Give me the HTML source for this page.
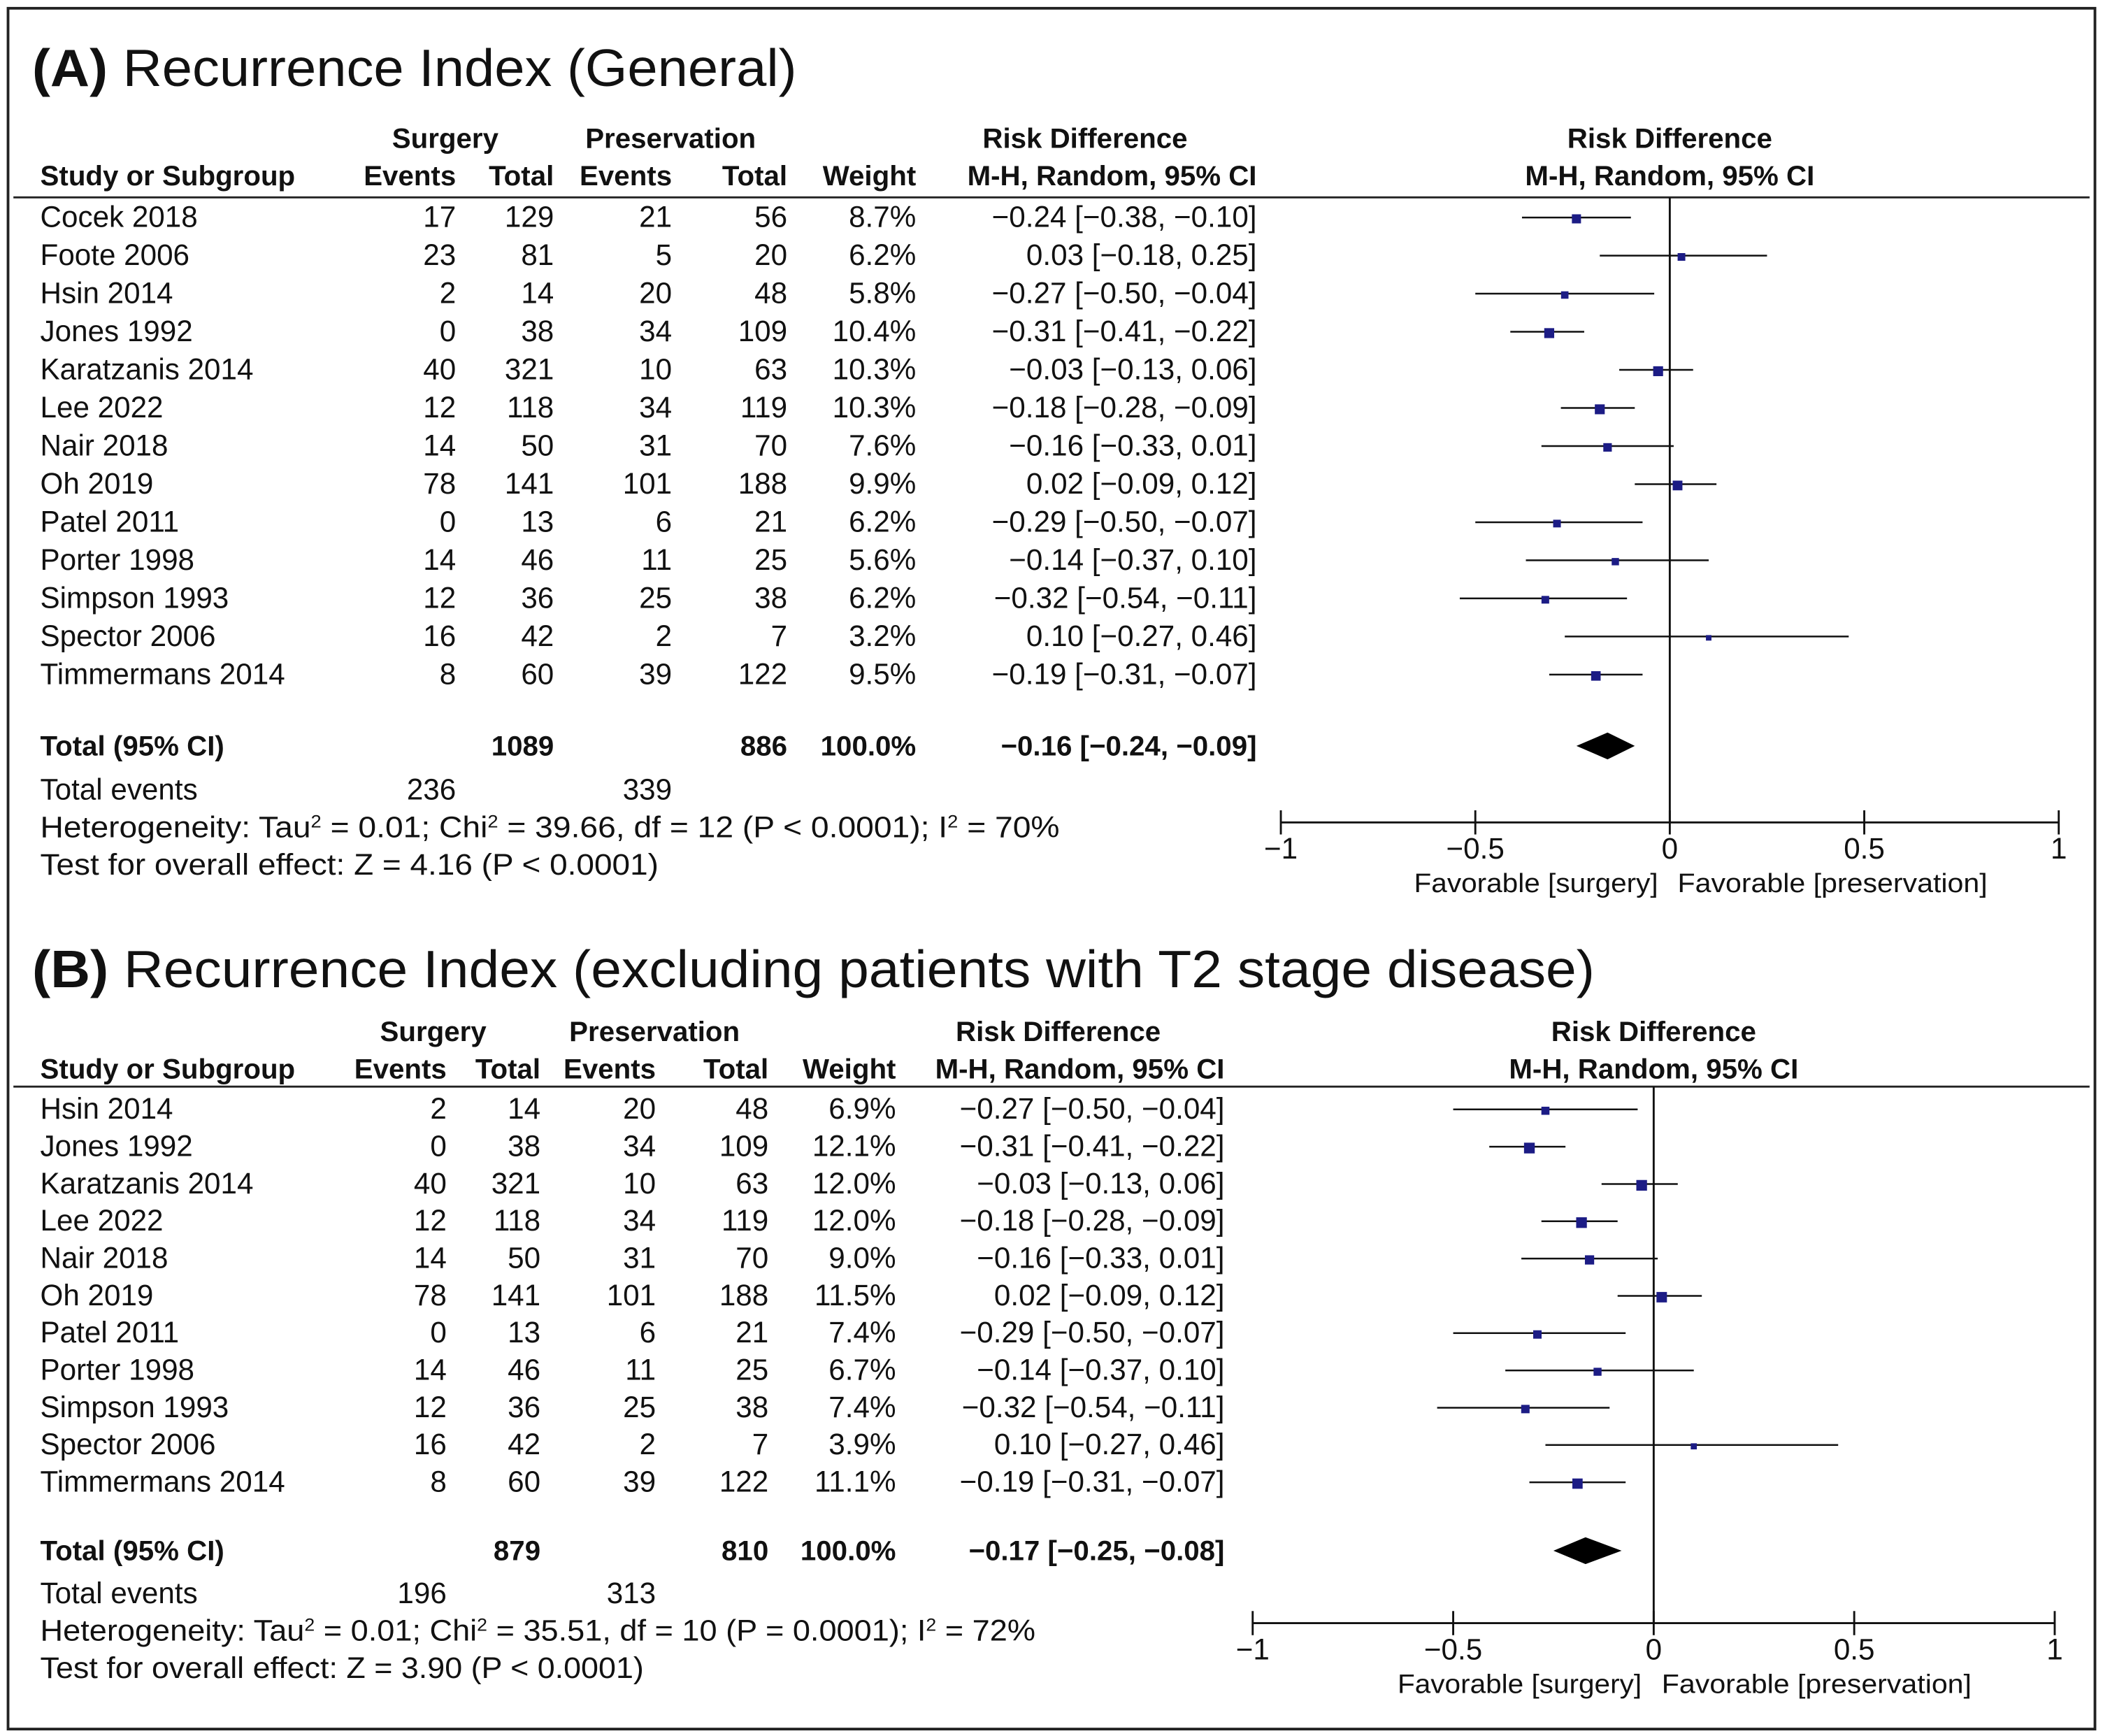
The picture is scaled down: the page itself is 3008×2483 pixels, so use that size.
<!DOCTYPE html>
<html><head><meta charset="utf-8"><style>
html,body{margin:0;padding:0;background:#fff}
svg{display:block}
text{font-family:"Liberation Sans",sans-serif;fill:#111}
</style></head><body>
<svg id="s" width="3008" height="2483" viewBox="0 0 1568 1294" xmlns="http://www.w3.org/2000/svg">
<rect x="6" y="6" width="1556" height="1283" fill="none" stroke="#222" stroke-width="2"/>
</svg>
<script>
const studiesA=["Cocek 2018","Foote 2006","Hsin 2014","Jones 1992","Karatzanis 2014","Lee 2022","Nair 2018","Oh 2019","Patel 2011","Porter 1998","Simpson 1993","Spector 2006","Timmermans 2014"];
const sEvA=[17,23,2,0,40,12,14,78,0,14,12,16,8];
const sTotA=[129,81,14,38,321,118,50,141,13,46,36,42,60];
const pEvA=[21,5,20,34,10,34,31,101,6,11,25,2,39];
const pTotA=[56,20,48,109,63,119,70,188,21,25,38,7,122];
const wA=[8.7,6.2,5.8,10.4,10.3,10.3,7.6,9.9,6.2,5.6,6.2,3.2,9.5];
const rdA=[-0.24,0.03,-0.27,-0.31,-0.03,-0.18,-0.16,0.02,-0.29,-0.14,-0.32,0.10,-0.19];
const loA=[-0.38,-0.18,-0.50,-0.41,-0.13,-0.28,-0.33,-0.09,-0.50,-0.37,-0.54,-0.27,-0.31];
const hiA=[-0.10,0.25,-0.04,-0.22,0.06,-0.09,0.01,0.12,-0.07,0.10,-0.11,0.46,-0.07];
const totA=[-0.16,-0.24,-0.09];

const studiesB=["Hsin 2014","Jones 1992","Karatzanis 2014","Lee 2022","Nair 2018","Oh 2019","Patel 2011","Porter 1998","Simpson 1993","Spector 2006","Timmermans 2014"];
const sEvB=[2,0,40,12,14,78,0,14,12,16,8];
const sTotB=[14,38,321,118,50,141,13,46,36,42,60];
const pEvB=[20,34,10,34,31,101,6,11,25,2,39];
const pTotB=[48,109,63,119,70,188,21,25,38,7,122];
const wB=[6.9,12.1,12.0,12.0,9.0,11.5,7.4,6.7,7.4,3.9,11.1];
const rdB=[-0.27,-0.31,-0.03,-0.18,-0.16,0.02,-0.29,-0.14,-0.32,0.10,-0.19];
const loB=[-0.50,-0.41,-0.13,-0.28,-0.33,-0.09,-0.50,-0.37,-0.54,-0.27,-0.31];
const hiB=[-0.04,-0.22,0.06,-0.09,0.01,0.12,-0.07,0.10,-0.11,0.46,-0.07];
const totB=[-0.17,-0.25,-0.08];
const ticks=[-1,-0.5,0,0.5,1];
const tickLabels=["\u22121","\u22120.5","0","0.5","1"];

const svg=document.getElementById('s');
const NS="http://www.w3.org/2000/svg";
function el(tag,attrs,txt){const e=document.createElementNS(NS,tag);for(const k in attrs)e.setAttribute(k,attrs[k]);if(txt!==undefined)e.textContent=txt;svg.appendChild(e);return e;}
function t(x,y,s,anchor,size,weight){return el('text',{x:x,y:y,'text-anchor':anchor||'start','font-size':size||22,'font-weight':weight||'normal'},s);}
function f(v){return (v<0?"\u2212":"")+Math.abs(v).toFixed(2);}
function ci(r,l,h){return (r<0?"\u2212":"")+Math.abs(r).toFixed(2)+" ["+f(l)+", "+f(h)+"]";}
function fit(e,len){e.setAttribute('textLength',len);e.setAttribute('lengthAdjust','spacingAndGlyphs');}

function panel(P){
  let e=t(24,P.titleY,"",'start',39);e.innerHTML='<tspan font-weight="bold">'+P.letter+'</tspan> '+P.title;
  fit(e,P.titleLen);
  
  const C=P.cols;
  const h1=P.h1,h2=P.h2;
  t(C.surgC,h1,"Surgery",'middle',21,'bold');
  t(C.presC,h1,"Preservation",'middle',21,'bold');
  t(C.rdC,h1,"Risk Difference",'middle',21,'bold');
  t(P.x0,h1,"Risk Difference",'middle',21,'bold');
  t(30,h2,"Study or Subgroup",'start',21,'bold');
  t(C.se,h2,"Events",'end',21,'bold');
  t(C.st,h2,"Total",'end',21,'bold');
  t(C.pe,h2,"Events",'end',21,'bold');
  t(C.pt,h2,"Total",'end',21,'bold');
  t(C.w,h2,"Weight",'end',21,'bold');
  t(C.rd,h2,"M-H, Random, 95% CI",'end',21,'bold');
  t(P.x0,h2,"M-H, Random, 95% CI",'middle',21,'bold');
  el('line',{x1:10,x2:1558,y1:P.lineY,y2:P.lineY,stroke:'#222','stroke-width':1.5,});
  const X=v=>P.x0+v*P.half;
  el('line',{x1:X(0),x2:X(0),y1:P.lineY,y2:P.axisY,stroke:'#111','stroke-width':1.5,});
  for(let i=0;i<P.names.length;i++){
    const y=P.r0+P.dr*i;
    const ty=y+7;
    const n=t(30,ty,P.names[i]);
    
    t(C.se,ty,String(P.se[i]),'end');t(C.st,ty,String(P.st[i]),'end');
    t(C.pe,ty,String(P.pe[i]),'end');t(C.pt,ty,String(P.pt[i]),'end');
    t(C.w,ty,P.w[i].toFixed(1)+"%",'end');
    t(C.rd,ty,ci(P.rd[i],P.lo[i],P.hi[i]),'end');
    const l=el('line',{x1:X(P.lo[i]),x2:X(P.hi[i]),y1:y,y2:y,stroke:'#111','stroke-width':1.3});
    
    const s=Math.sqrt(P.w[i])*2.3;
    const r=el('rect',{x:X(P.rd[i])-s/2,y:y-s/2+1,width:s,height:s,fill:'#1c1c85'});
    
  }
  const ty=P.totY+7;
  t(30,ty,"Total (95% CI)",'start',21,'bold');
  t(C.st,ty,String(P.st.reduce((a,b)=>a+b,0)),'end',21,'bold');
  t(C.pt,ty,String(P.pt.reduce((a,b)=>a+b,0)),'end',21,'bold');
  t(C.w,ty,"100.0%",'end',21,'bold');
  t(C.rd,ty,ci(P.tot[0],P.tot[1],P.tot[2]),'end',21,'bold');
  const d=el('polygon',{points:`${X(P.tot[1])},${P.totY} ${X(P.tot[0])},${P.totY-10} ${X(P.tot[2])},${P.totY} ${X(P.tot[0])},${P.totY+10}`,fill:'#000'});
  
  t(30,P.evY+7,"Total events");
  t(C.se,P.evY+7,String(P.se.reduce((a,b)=>a+b,0)),'end');
  t(C.pe,P.evY+7,String(P.pe.reduce((a,b)=>a+b,0)),'end');
  let h=t(30,P.evY+35,"");h.innerHTML=P.het;fit(h,P.hetLen);
  
  let te=t(30,P.evY+63,P.test);fit(te,P.testLen);
  el('line',{x1:X(-1),x2:X(1),y1:P.axisY,y2:P.axisY,stroke:'#111','stroke-width':1.5,});
  ticks.forEach((v,i)=>{
    el('line',{x1:X(v),x2:X(v),y1:P.axisY-9,y2:P.axisY+9,stroke:'#111','stroke-width':1.5});
    const tl=t(X(v),P.axisY+27,tickLabels[i],'middle',22);
    
  });
  let fs=t(X(-0.03),P.axisY+52,"Favorable [surgery]",'end',20);fit(fs,182);
  let fp=t(X(0.02),P.axisY+52,"Favorable [preservation]",'start',20);fit(fp,231);
}
panel({id:'a',letter:'(A)',title:'Recurrence Index (General)',titleLen:570,titleY:64,h1:110,h2:138,lineY:147,
  cols:{surgC:332,presC:500,rdC:809,se:340,st:413,pe:501,pt:587,w:683,rd:937},
  names:studiesA,se:sEvA,st:sTotA,pe:pEvA,pt:pTotA,w:wA,rd:rdA,lo:loA,hi:hiA,tot:totA,
  r0:162,dr:28.4,totY:556,evY:589,x0:1245,half:290,axisY:613,hetLen:760,testLen:461,
  het:'Heterogeneity: Tau<tspan baseline-shift="super" font-size="13">2</tspan> = 0.01; Chi<tspan baseline-shift="super" font-size="13">2</tspan> = 39.66, df = 12 (P &lt; 0.0001); I<tspan baseline-shift="super" font-size="13">2</tspan> = 70%',
  test:'Test for overall effect: Z = 4.16 (P < 0.0001)'});
panel({id:'b',letter:'(B)',title:'Recurrence Index (excluding patients with T2 stage disease)',titleLen:1165,titleY:736,h1:776,h2:804,lineY:810,
  cols:{surgC:323,presC:488,rdC:789,se:333,st:403,pe:489,pt:573,w:668,rd:913},
  names:studiesB,se:sEvB,st:sTotB,pe:pEvB,pt:pTotB,w:wB,rd:rdB,lo:loB,hi:hiB,tot:totB,
  r0:827,dr:27.8,totY:1156,evY:1188,x0:1233,half:299,axisY:1210,hetLen:742,testLen:450,
  het:'Heterogeneity: Tau<tspan baseline-shift="super" font-size="13">2</tspan> = 0.01; Chi<tspan baseline-shift="super" font-size="13">2</tspan> = 35.51, df = 10 (P = 0.0001); I<tspan baseline-shift="super" font-size="13">2</tspan> = 72%',
  test:'Test for overall effect: Z = 3.90 (P < 0.0001)'});
</script>
</body></html>
